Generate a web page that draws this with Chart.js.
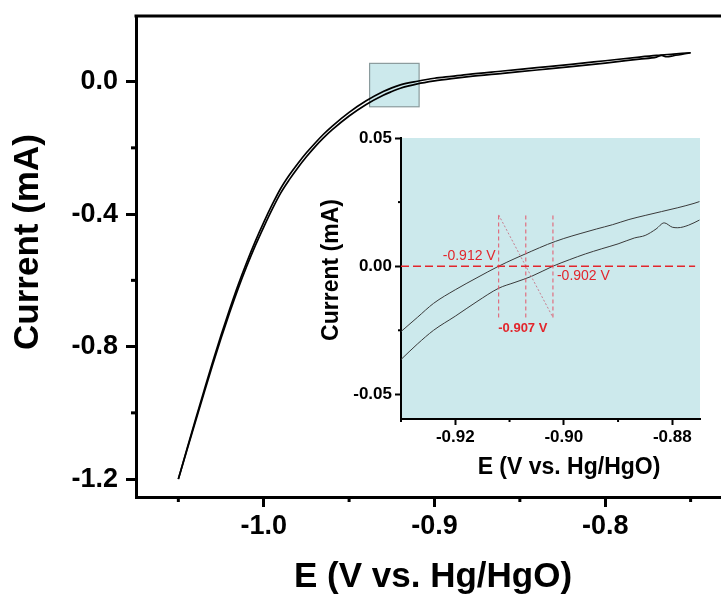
<!DOCTYPE html>
<html>
<head>
<meta charset="utf-8">
<title>LSV onset</title>
<script src="https://cdn.jsdelivr.net/npm/chart.js@4.4.1/dist/chart.umd.min.js"></script>
<style>
  html, body { margin: 0; padding: 0; background: #fff; }
  #wrap { position: relative; width: 721px; height: 596px; overflow: hidden; }
  #mainChart { position: absolute; left: 0; top: 0; }
  #insetChart { position: absolute; left: 300px; top: 120px; }
</style>
</head>
<body>
<div id="wrap">
  <canvas id="mainChart" width="721" height="596"></canvas>
  <canvas id="insetChart" width="421" height="370"></canvas>
</div>
<script>
// Full scan: potential (V vs. Hg/HgO) and current (mA)
const forwardPotential = [-1.05, -1.045, -1.04, -1.035, -1.03, -1.025, -1.02, -1.015, -1.01, -1.005,
  -1.0, -0.995, -0.99, -0.985, -0.98, -0.975, -0.97, -0.965, -0.96, -0.95, -0.94, -0.93, -0.925, -0.92,
  -0.91, -0.90, -0.89, -0.88, -0.86, -0.84, -0.82, -0.80, -0.78, -0.77, -0.76, -0.75];
const forwardCurrent = [-1.200, -1.110, -1.021, -0.934, -0.848, -0.766, -0.688, -0.614, -0.546, -0.483,
  -0.425, -0.371, -0.322, -0.282, -0.247, -0.215, -0.186, -0.159, -0.135, -0.093, -0.058, -0.030, -0.019,
  -0.010, 0.001, 0.010, 0.016, 0.022, 0.032, 0.042, 0.052, 0.063, 0.074, 0.079, 0.083, 0.087];

const reversePotential = [-1.05, -1.045, -1.04, -1.035, -1.03, -1.025, -1.02, -1.015, -1.01, -1.005,
  -1.0, -0.995, -0.99, -0.985, -0.98, -0.975, -0.97, -0.965, -0.96, -0.95, -0.94, -0.93, -0.925, -0.92,
  -0.91, -0.90, -0.89, -0.88, -0.86, -0.84, -0.82, -0.80, -0.78, -0.77, -0.767, -0.764, -0.76, -0.75];
const reverseCurrent = [-1.200, -1.113, -1.027, -0.941, -0.856, -0.775, -0.698, -0.625, -0.558, -0.496,
  -0.439, -0.385, -0.336, -0.296, -0.260, -0.227, -0.197, -0.170, -0.146, -0.104, -0.069, -0.041, -0.030,
  -0.020, -0.007, 0.002, 0.009, 0.015, 0.025, 0.035, 0.045, 0.056, 0.068, 0.074, 0.079, 0.075, 0.078, 0.087];

// Zoomed region around the onset
const insetUpperPotential = [-0.93, -0.927, -0.924, -0.92, -0.916, -0.912, -0.909, -0.906, -0.903,
  -0.900, -0.897, -0.894, -0.891, -0.888, -0.885, -0.882, -0.879, -0.876, -0.875];
const insetUpperCurrent = [-0.0255, -0.0200, -0.0145, -0.0092, -0.0045, 0.0, 0.0030, 0.0058, 0.0085,
  0.0108, 0.0127, 0.0145, 0.0162, 0.0182, 0.0198, 0.0213, 0.0228, 0.0245, 0.0252];

const insetLowerPotential = [-0.93, -0.927, -0.924, -0.92, -0.916, -0.912, -0.909, -0.906, -0.902,
  -0.899, -0.896, -0.893, -0.890, -0.887, -0.885, -0.883, -0.8815, -0.880, -0.879, -0.877, -0.875];
const insetLowerCurrent = [-0.0364, -0.0304, -0.0250, -0.0195, -0.0138, -0.0086, -0.0063, -0.0040, 0.0,
  0.0025, 0.0048, 0.0068, 0.0087, 0.0110, 0.0120, 0.0145, 0.0169, 0.0152, 0.0150, 0.0160, 0.0180];

// Onset potentials marked in the inset
const onsetPotentials = [-0.912, -0.907, -0.902];
const guideRange = [-0.02, 0.02];

// Axis ticks (major ones get labels)
const mainXTicks = [-1.05, -1.0, -0.95, -0.9, -0.85, -0.8, -0.75];
const mainXLabeled = [-1.0, -0.9, -0.8];
const mainYTicks = [-1.2, -1.0, -0.8, -0.6, -0.4, -0.2, 0.0];
const mainYLabeled = [-1.2, -0.8, -0.4, 0.0];
const insetXTicks = [-0.93, -0.92, -0.91, -0.90, -0.89, -0.88];
const insetXLabeled = [-0.92, -0.90, -0.88];
const insetYTicks = [-0.05, -0.025, 0.0, 0.025, 0.05];
const insetYLabeled = [-0.05, 0.0, 0.05];

const RED = '#e2262c';
const CYAN = '#cce9ec';

Chart.defaults.font.family = "'Liberation Sans', Arial, sans-serif";
Chart.defaults.color = '#000';

const pts = (xs, ys) => xs.map((x, i) => ({ x: x, y: ys[i] }));
const isIn = (list, v) => list.some(l => Math.abs(l - v) < 1e-9);

function axis(opts) {
  return {
    type: 'linear',
    position: opts.position,
    min: opts.min,
    max: opts.max,
    afterBuildTicks: s => { s.ticks = opts.ticks.map(v => ({ value: v })); },
    afterFit: s => { if (opts.position === 'left') s.width = opts.size; else s.height = opts.size; },
    border: { display: true, color: '#000', width: opts.lineWidth },
    grid: {
      drawOnChartArea: false,
      drawTicks: true,
      tickLength: opts.tickLength,
      tickWidth: opts.lineWidth,
      tickColor: c => (c.tick && isIn(opts.labeled, c.tick.value)) ? '#000' : 'rgba(0,0,0,0)'
    },
    ticks: {
      autoSkip: false,
      maxRotation: 0,
      padding: opts.padding,
      font: { size: opts.fontSize, weight: 'bold', lineHeight: opts.position === 'left' ? 0.5 : 1.2 },
      callback: v => isIn(opts.labeled, v) ? v.toFixed(opts.digits) : ''
    }
  };
}

// short unlabeled ticks, optional top frame line and axis titles
const frame = {
  id: 'frame',
  afterDraw(chart, args, o) {
    const { ctx, chartArea } = chart;
    ctx.save();
    ctx.strokeStyle = '#000';
    ctx.lineWidth = o.lineWidth;
    ['x', 'y'].forEach(id => {
      const s = chart.scales[id];
      s.ticks.forEach(t => {
        if (t.label !== '') return;
        const p = s.getPixelForValue(t.value);
        ctx.beginPath();
        if (id === 'x') { ctx.moveTo(p, s.top); ctx.lineTo(p, s.top + o.minorLength); }
        else { ctx.moveTo(s.right, p); ctx.lineTo(s.right - o.minorLength, p); }
        ctx.stroke();
      });
    });
    if (o.topLine) {
      ctx.beginPath();
      ctx.moveTo(chartArea.left - o.lineWidth / 2, chartArea.top);
      ctx.lineTo(chartArea.right + 2, chartArea.top);
      ctx.stroke();
    }
    ctx.fillStyle = '#000';
    ctx.textAlign = 'center';
    ctx.textBaseline = 'middle';
    o.titles.forEach(t => {
      ctx.save();
      ctx.font = t.font;
      ctx.translate(t.x, t.y);
      if (t.vertical) ctx.rotate(-Math.PI / 2);
      ctx.fillText(t.text, 0, 0);
      ctx.restore();
    });
    ctx.restore();
  }
};

// magnified window marker on the full scan
const zoomBox = {
  id: 'zoomBox',
  beforeDatasetsDraw(chart, args, o) {
    const { ctx, scales: { x, y } } = chart;
    const l = x.getPixelForValue(o.xMin), r = x.getPixelForValue(o.xMax);
    const t = y.getPixelForValue(o.yMax), b = y.getPixelForValue(o.yMin);
    ctx.save();
    ctx.fillStyle = CYAN;
    ctx.fillRect(l, t, r - l, b - t);
    ctx.strokeStyle = '#8a9b9d';
    ctx.lineWidth = 1.2;
    ctx.strokeRect(l, t, r - l, b - t);
    ctx.restore();
  }
};

// inset plot background and onset labels
const insetDecor = {
  id: 'insetDecor',
  beforeDraw(chart) {
    const { ctx, chartArea: a } = chart;
    ctx.save();
    ctx.fillStyle = CYAN;
    ctx.fillRect(a.left + 1, a.top, a.right - a.left - 1, a.bottom - a.top);
    ctx.restore();
  },
  afterDatasetsDraw(chart) {
    const { ctx, scales: { x, y } } = chart;
    const y0 = y.getPixelForValue(0);
    const lbl = v => v.toFixed(3) + ' V';
    ctx.save();
    ctx.fillStyle = RED;
    ctx.textBaseline = 'middle';
    ctx.font = "14px 'Liberation Sans', Arial, sans-serif";
    ctx.textAlign = 'right';
    ctx.fillText(lbl(onsetPotentials[0]), x.getPixelForValue(onsetPotentials[0]) - 3, y0 - 10);
    ctx.textAlign = 'left';
    ctx.fillText(lbl(onsetPotentials[2]), x.getPixelForValue(onsetPotentials[2]) + 4, y0 + 10);
    ctx.font = "bold 13px 'Liberation Sans', Arial, sans-serif";
    ctx.textAlign = 'center';
    ctx.fillText(lbl(onsetPotentials[1]), x.getPixelForValue(onsetPotentials[1]) - 3,
      y.getPixelForValue(guideRange[0]) + 11);
    ctx.restore();
  }
};

new Chart(document.getElementById('mainChart'), {
  type: 'line',
  data: {
    datasets: [
      { data: pts(reversePotential, reverseCurrent) },
      { data: pts(forwardPotential, forwardCurrent) }
    ]
  },
  options: {
    responsive: false,
    animation: false,
    events: [],
    layout: { padding: { top: 16, left: 0, right: 0, bottom: 0 } },
    elements: {
      point: { radius: 0 },
      line: { borderColor: '#000', borderWidth: 1.7, cubicInterpolationMode: 'monotone', fill: false }
    },
    scales: {
      x: axis({ position: 'bottom', min: -1.0748, max: -0.7322, ticks: mainXTicks, labeled: mainXLabeled,
        size: 99, lineWidth: 3, tickLength: 10, padding: 3, fontSize: 27, digits: 1 }),
      y: axis({ position: 'left', min: -1.254, max: 0.198, ticks: mainYTicks, labeled: mainYLabeled,
        size: 136, lineWidth: 3, tickLength: 10, padding: 8, fontSize: 27, digits: 1 })
    },
    plugins: {
      legend: { display: false },
      tooltip: { enabled: false },
      zoomBox: { xMin: -0.938, xMax: -0.909, yMin: -0.076, yMax: 0.055 },
      frame: {
        lineWidth: 3, minorLength: 5, topLine: true,
        titles: [
          { text: 'Current (mA)', x: 28, y: 242, vertical: true, font: "bold 35px 'Liberation Sans', Arial, sans-serif" },
          { text: 'E (V vs. Hg/HgO)', x: 433, y: 577, vertical: false, font: "bold 35px 'Liberation Sans', Arial, sans-serif" }
        ]
      }
    }
  },
  plugins: [zoomBox, frame]
});

const guideLines = onsetPotentials.map(v => ({
  data: [{ x: v, y: guideRange[0] }, { x: v, y: guideRange[1] }],
  borderColor: '#e4566a', borderWidth: 1, borderDash: [4, 3]
}));

new Chart(document.getElementById('insetChart'), {
  type: 'line',
  data: {
    datasets: [
      {
        data: [{ x: -0.93, y: 0 }, { x: -0.8758, y: 0 }],
        borderColor: RED, borderWidth: 1.5, borderDash: [8, 4]
      },
      ...guideLines,
      {
        data: [{ x: onsetPotentials[0], y: guideRange[1] }, { x: onsetPotentials[2], y: guideRange[0] }],
        borderColor: '#c87f90', borderWidth: 1, borderDash: [2, 2]
      },
      {
        data: pts(insetUpperPotential, insetUpperCurrent),
        borderColor: '#3a3a3a', borderWidth: 1, cubicInterpolationMode: 'monotone'
      },
      {
        data: pts(insetLowerPotential, insetLowerCurrent),
        borderColor: '#3a3a3a', borderWidth: 1, cubicInterpolationMode: 'monotone'
      }
    ]
  },
  options: {
    responsive: false,
    animation: false,
    events: [],
    layout: { padding: { top: 18, left: 0, right: 21, bottom: 0 } },
    elements: { point: { radius: 0 }, line: { fill: false } },
    scales: {
      x: axis({ position: 'bottom', min: -0.93, max: -0.8749, ticks: insetXTicks, labeled: insetXLabeled,
        size: 71, lineWidth: 2, tickLength: 6, padding: 2, fontSize: 17, digits: 2 }),
      y: axis({ position: 'left', min: -0.0596, max: 0.05, ticks: insetYTicks, labeled: insetYLabeled,
        size: 101, lineWidth: 2, tickLength: 6, padding: 3, fontSize: 17, digits: 2 })
    },
    plugins: {
      legend: { display: false },
      tooltip: { enabled: false },
      frame: {
        lineWidth: 2, minorLength: 3, topLine: false,
        titles: [
          { text: 'Current (mA)', x: 32, y: 150, vertical: true, font: "bold 23px 'Liberation Sans', Arial, sans-serif" },
          { text: 'E (V vs. Hg/HgO)', x: 269, y: 348, vertical: false, font: "bold 23px 'Liberation Sans', Arial, sans-serif" }
        ]
      }
    }
  },
  plugins: [insetDecor, frame]
});
</script>
</body>
</html>
